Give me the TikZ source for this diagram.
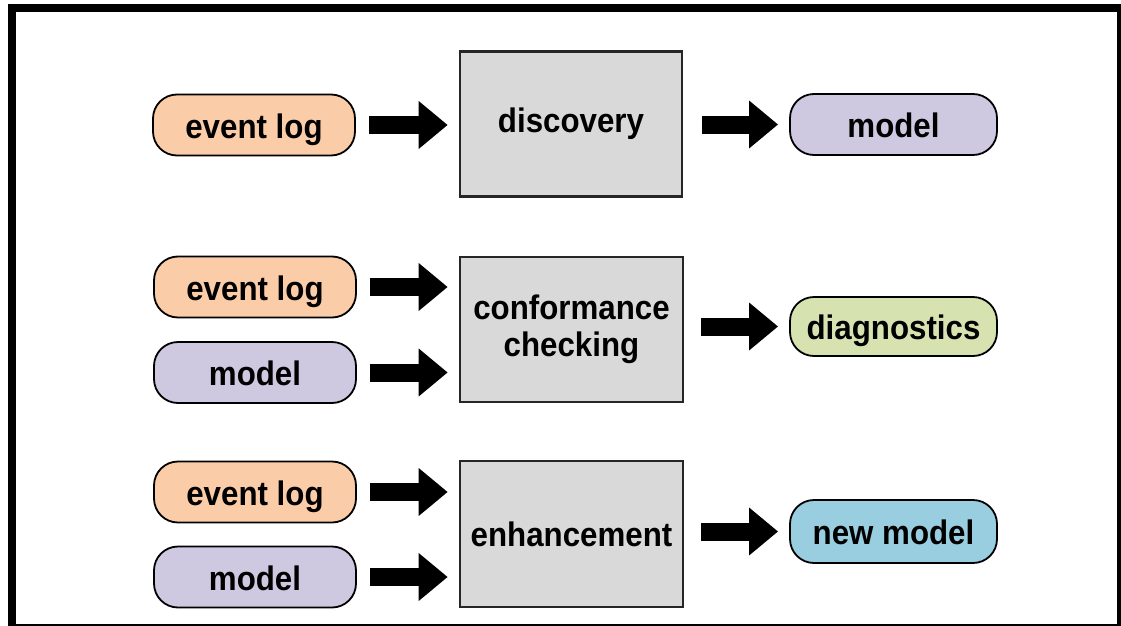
\documentclass[tikz,border=0pt]{standalone}
\usepackage{fontspec}
\newfontfamily\dfont[FakeStretch=0.92]{Liberation Sans}
\usetikzlibrary{arrows.meta}
\definecolor{peach}{RGB}{250,204,168}
\definecolor{lav}{RGB}{206,200,224}
\definecolor{dgreen}{RGB}{214,226,176}
\definecolor{lblue}{RGB}{152,206,224}
\definecolor{boxgrey}{RGB}{217,217,217}
\begin{document}
\begin{tikzpicture}[x=1pt,y=-1pt,
  every node/.style={font=\dfont\bfseries\fontsize{34}{37}\selectfont},
  pill/.style={draw=black, line width=1.8pt, rounded corners=24pt,
    minimum width=202pt, minimum height=61pt, inner sep=0pt,
    text height=31pt, text depth=5pt},
  proc/.style={draw=black!85, line width=2.6pt, fill=boxgrey,
    minimum width=222pt, minimum height=145pt, inner sep=0pt, align=center},
  flow/.style={line width=18pt, -{Triangle[length=29pt,width=46pt]},
    shorten <=13pt, shorten >=11pt}]
\useasboundingbox (0,0) rectangle (1121,626);
\clip (0,0) rectangle (1121,626);
\draw[line width=8pt] (12,8) rectangle (1121,628);

% row 1
\node[pill, fill=peach] (el1) at (254,125) {event log};
\node[proc] (disc) at (571,124) {discovery};
\node[pill, fill=lav, minimum width=207pt] (m1) at (893.5,124.5) {model};
\draw[flow] (el1.east) -- (el1.east -| disc.west);
\draw[flow, shorten <=19pt] (m1.west -| disc.east) -- (m1.west);

% row 2
\node[pill, fill=peach] (el2) at (255,287) {event log};
\node[pill, fill=lav] (m2) at (255,372.5) {model};
\node[proc, minimum width=223pt] (conf) at (571.5,329.5) {conformance\\checking};
\node[pill, fill=dgreen, minimum width=207pt, minimum height=59pt] (diag) at (893.5,326.5) {diagnostics};
\draw[flow] (el2.east) -- (el2.east -| conf.west);
\draw[flow] (m2.east) -- (m2.east -| conf.west);
\draw[flow, shorten <=17pt] (diag.west -| conf.east) -- (diag.west);

% row 3
\node[pill, fill=peach] (el3) at (255,492) {event log};
\node[pill, fill=lav] (m3) at (255,577) {model};
\node[proc, minimum width=223pt, minimum height=146pt] (enh) at (571.5,534) {enhancement};
\node[pill, fill=lblue, minimum width=207pt, minimum height=63pt] (newm) at (893.5,531.5) {new model};
\draw[flow] (el3.east) -- (el3.east -| enh.west);
\draw[flow] (m3.east) -- (m3.east -| enh.west);
\draw[flow, shorten <=17pt] (newm.west -| enh.east) -- (newm.west);
\end{tikzpicture}
\end{document}
